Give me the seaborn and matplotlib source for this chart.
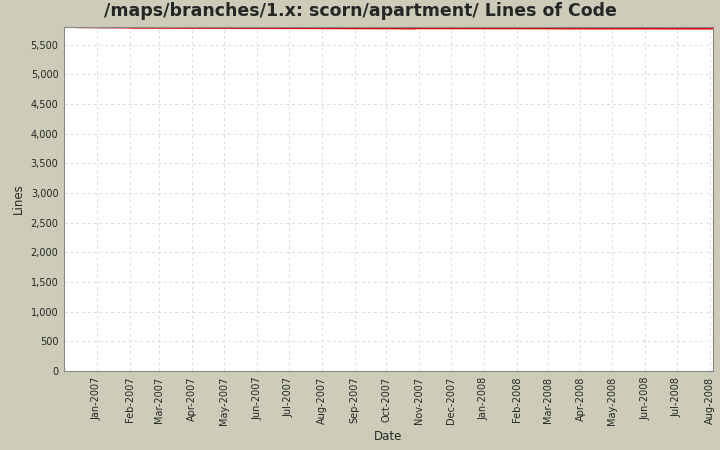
import matplotlib
matplotlib.use("Agg")
import matplotlib.pyplot as plt
import matplotlib.dates as mdates
import seaborn as sns
import pandas as pd

dates = ["2006-12-13", "2007-02-03", "2007-02-03", "2007-10-28", "2007-10-28", "2008-08-04"]
lines = [5795, 5795, 5782, 5782, 5772, 5772]
tick_dates = pd.date_range("2007-01-01", "2008-08-01", freq="MS")

df = pd.DataFrame({"Date": pd.to_datetime(dates), "Lines": lines})

sns.set_style("whitegrid")
plt.rcParams['font.family'] = ['DejaVu Sans']
bg = "#CCCCB9"
fig = plt.figure(figsize=(7.2, 4.5), dpi=100, facecolor=bg)
ax = fig.add_axes([64/720, 1-371/450, (713-64)/720, (371-27)/450])
sns.lineplot(data=df, x="Date", y="Lines", ax=ax, color="#E00000", linewidth=1.3, sort=False)
ax.set_xlim(pd.Timestamp("2006-12-01"), pd.Timestamp("2008-08-04"))
ax.set_ylim(0, 5800)
ax.set_yticks(range(0, 5501, 500))
ax.yaxis.set_major_formatter(matplotlib.ticker.FuncFormatter(lambda v, p: f"{int(v):,}"))
ax.set_xticks(tick_dates)
ax.xaxis.set_major_formatter(mdates.DateFormatter("%b-%Y"))
plt.setp(ax.get_xticklabels(), rotation=90, fontsize=7)
plt.setp(ax.get_yticklabels(), fontsize=7)
ax.grid(True, color="#DDDDDD", linestyle=(0, (3, 3)), linewidth=0.7)
for s in ax.spines.values():
    s.set_color("#888888"); s.set_linewidth(0.8)
ax.tick_params(length=2, pad=2)
ax.set_xlabel("Date", fontsize=8.5)
ax.set_ylabel("Lines", fontsize=8.5)
fig.suptitle("/maps/branches/1.x: scorn/apartment/ Lines of Code", fontsize=12.5, fontweight="bold", y=0.995)
fig.savefig("out.png", facecolor=bg)
